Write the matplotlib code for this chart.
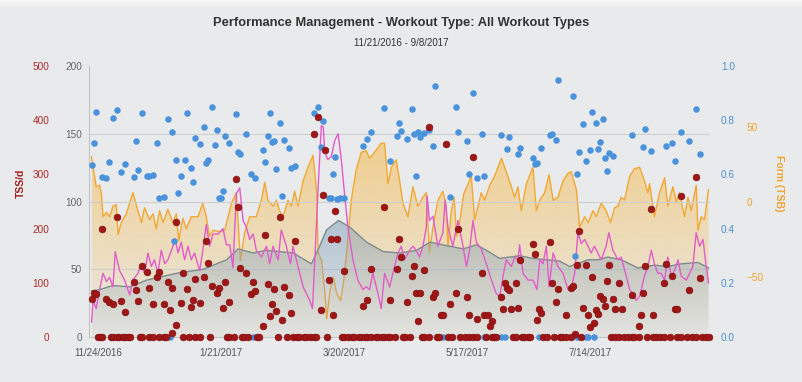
import matplotlib
matplotlib.use("Agg")
import matplotlib.pyplot as plt
import matplotlib.dates as mdates
from matplotlib.ticker import FixedLocator, FuncFormatter
from matplotlib.patches import PathPatch
from matplotlib.colors import to_rgb
import numpy as np

plt.rcParams['font.family'] = ['Liberation Sans', 'DejaVu Sans']

# ---- data (day offsets from 11/21/2016) ----
start = mdates.datestr2num('2016-11-21')

# Fitness (CTL), TSS/d, left axis 0-200
ctl_day = [0, 4, 10, 18, 26, 40, 52.7, 63.7, 69.1, 76.3, 82.5, 95.1, 103.7, 107.6, 110.8, 116.5,
           121.9, 129.7, 137.6, 145.5, 153.3, 159.6, 169, 175.2, 181.5, 186.2, 192.5, 201.9,
           208.2, 214.5, 220.8, 225.5, 228.7, 234.2, 238.8, 243.5, 249.8, 257.7, 265.5, 271.8,
           278.1, 286, 291]
ctl = [34, 35, 38, 37, 42, 47, 50, 57, 65, 62, 64, 62, 54, 67, 79, 86,
       81, 70, 63, 62, 64, 70, 67, 65, 68, 64, 58, 60,
       58, 57, 56, 52, 54, 57, 57, 59, 57, 51, 53, 52,
       54, 55, 51]

# Fatigue (ATL)
atl_day = [0, 0.7, 2.2, 3.8, 5.4, 7, 8.5, 10.1, 11.2, 13.2, 15.6, 18, 19.5, 21.9, 23.5, 25, 26.6,
           28.2, 29.7, 31.3, 32.9, 34.5, 36, 38.4, 39.5, 40.8, 42.3, 43.9, 45.5, 47, 48.6, 51,
           52.5, 54.1, 55.7, 57.3, 59.7, 62, 63.6, 65.2, 66.7, 68.3, 69.9, 71.5, 73, 74.6, 76.2,
           77.7, 80.1, 82.5, 84, 85.6, 88, 89.5, 91.9, 93.8, 95, 96.6, 99.8, 102.9, 104.2, 105.3,
           106.8, 108.4, 109.3, 110, 111.5, 113.1, 114.7, 116.3, 117.8, 119.3, 120.9, 123.3,
           125.6, 128, 129.6, 131.1, 132.7, 135.1, 136.6, 138.2, 140.6, 142.1, 144.5, 146.1,
           147.6, 150, 151.6, 153.1, 154.7, 156.3, 157.9, 158.3, 159.4, 161, 163.4, 165.7,
           166.8, 168.1, 170.4, 172.8, 175.2, 176.8, 178.3, 179.9, 181.5, 183.8, 186.2, 188.6,
           190.9, 192.5, 194.1, 195.6, 198, 199.6, 201.1, 201.9, 203.5, 205.9, 208.2, 210.1,
           211.4, 212.9, 214.5, 215.8, 217.7, 220, 222.4, 224.7, 226.3, 227.9, 229.4, 231,
           232.6, 234.2, 235.7, 237.2, 238.8, 240.4, 242.7, 244, 245.9, 248.3, 249.8, 252.2,
           253.8, 255.3, 256.9, 258.5, 260.8, 262.4, 264, 265.5, 267.1, 268.7, 270.3, 271.8,
           273.4, 275, 276.6, 278.1, 280.5, 282.1, 283.6, 285.2, 286.8, 288.4, 289.9, 291]
atl = [11, 27, 21, 35, 47, 41, 44, 37, 63, 49, 42, 31, 42, 47, 54, 47, 62,
       52, 57, 47, 64, 54, 57, 67, 72, 62, 70, 57, 67, 57, 62, 49,
       64, 83, 67, 76, 76, 80, 68, 68, 51, 106, 110, 86, 81, 72, 76,
       64, 59, 67, 54, 67, 57, 79, 67, 54, 67, 57, 37, 27, 21, 57,
       108, 156, 155, 136, 131, 133, 145, 150, 131, 106, 81, 57,
       42, 35, 37, 35, 47, 32, 21, 47, 37, 47, 62, 67,
       57, 64, 67, 64, 59, 67, 81, 104, 86, 89, 67, 77,
       101, 81, 67, 86, 67, 52, 64, 86, 70, 65, 54, 42,
       32, 30, 45, 57, 52, 59, 57, 68, 47, 42, 42, 35,
       57, 54, 67, 37, 62, 52, 47, 35, 37, 47, 77, 69,
       72, 67, 62, 67, 62, 57, 67, 77, 64, 57, 59, 45,
       35, 32, 27, 30, 45, 52, 64, 54, 47, 47, 42, 59,
       45, 49, 57, 45, 42, 47, 52, 77, 67, 72, 52, 40]

# Form (TSB), right axis
tsb_day = [0, 0.7, 2.2, 3.8, 4.6, 5.4, 7, 8.5, 10.1, 11.7, 12.5, 14, 16.4, 19.5, 21.9, 23.5, 25,
           27.4, 29, 30.5, 32.1, 33.7, 36, 38.4, 40, 41.1, 43.1, 44.7, 47, 50.2, 52.5, 54.1,
           55.7, 57.3, 60.4, 62.8, 64.4, 66, 68.3, 70.2, 72.2, 74.6, 77.7, 80.1, 81.7, 83.2,
           85.6, 87.2, 88.7, 90.3, 92.7, 94.2, 95.8, 97.4, 99.8, 102.1, 104.5, 106.2, 106.9,
           108.5, 110.1, 110.9, 112.5, 114, 115.6, 117.5, 119, 120.1, 122.5, 124.8, 127.2,
           129.6, 131.1, 133.5, 136.6, 138.2, 139.8, 141.4, 143.7, 145.3, 146.9, 149.2, 151.6,
           153.9, 156.3, 157.9, 159.4, 161, 163.4, 165.7, 167.3, 168.1, 169.7, 171, 172.2,
           173.8, 175.5, 177.6, 179.1, 180.7, 182.3, 183.8, 185.4, 187.8, 190.1, 193.3, 195.6,
           198, 199.6, 201.1, 202.7, 205.1, 208.2, 209.8, 211.4, 213.7, 215.8, 217.7, 220,
           222.4, 224.7, 226.3, 228.7, 230.2, 232.6, 234.2, 236.5, 238, 240.4, 242.7, 244.8,
           246.7, 248.3, 249.8, 251.4, 253.8, 256.1, 258.5, 260.8, 262.4, 263.2, 265.5, 267.9,
           270.3, 271.8, 274.2, 275.8, 277.3, 279.7, 281.3, 282.8, 285.2, 286, 287.6, 289.1, 291]
tsb = [30, 23, 10, 11, 6, -10, -7, -10, -3, -2, -22, -14, -8, 6, -6, -14, -4,
       -12, -8, -18, -6, -14, -5, -14, -8, -26, -11, -18, -10, -10, -1, -10,
       -23, -19, -20, -19, -10, -1, 6, -39, -21, -10, -10, 1, 13, 1,
       -3, 1, -6, -10, 1, -3, 7, -3, 14, 23, 31, 6, -34,
       -39, -61, -78, -59, -50, -61, -66, -52, -37, 1, 21, 33,
       34, 29, 33, 39, 39, 12, 23, 28, 14, -1, -10, 10,
       -3, 3, 6, -34, -17, 1, 7, -3, -30, -6, 3, -23,
       -12, 5, 12, 17, -12, -3, 6, 1, 11, 17, 29, 20,
       10, 3, 10, -6, 12, 23, -6, 1, 6, 18, 1, 3,
       14, 19, 20, 8, -17, -10, -14, -6, -10, -1, -6, -14,
       -4, -3, 3, 1, 17, 22, 23, 14, 6, 12, -10, 6,
       16, -3, 10, 0, 6, -10, 3, -6, 11, -19, -10, -12, 8]

# TSS per workout (TSS/d axis 0-500)
tss_day = [0, 1, 2, 5, 7, 8, 10, 12, 14, 16, 20, 21, 22, 24, 26, 27, 29, 31, 32, 34, 36, 37,
           38, 38, 40, 40, 42, 43, 45, 47, 48, 49, 51, 53, 54, 55, 57,
           59, 60, 62, 63, 65, 68, 69, 70, 73, 75, 76, 77, 81, 82, 83, 84, 85, 86, 87, 89,
           90, 91, 93, 94, 96, 105, 107, 108, 109, 110, 112, 113, 114, 115, 116,
           119, 128, 130, 132, 138, 141, 144, 145, 146, 149, 151, 152, 153, 154, 155, 157,
           159, 161, 162, 165, 166, 167, 169, 172, 173,
           177, 178, 180, 182, 184, 185, 187, 188, 189, 193, 194, 195, 196, 197, 198, 200,
           201, 202, 208, 209, 210, 211, 212, 216, 217, 219, 220, 224, 226, 227, 228, 229,
           230, 232, 233, 234,
           235, 236, 237, 238, 239, 240, 241, 242, 243, 244, 246, 247, 249, 250, 255, 258,
           259, 260, 261, 264, 265, 270, 271, 274, 275, 276, 278, 282, 285, 287]
tss = [70, 82, 79, 200, 71, 65, 61, 222, 67, 46, 101, 87, 67, 131, 120, 90, 60, 110, 120, 60, 102, 50,
       90, 7, 213, 23, 63, 119, 88, 56, 68, 107, 62, 110, 177, 136, 94,
       81, 91, 53, 102, 64, 291, 239, 128, 118, 79, 101, 85, 21, 189, 98, 38, 60, 89, 48, 222,
       31, 93, 78, 45, 178, 375, 405, 50, 262, 345, 105, 180, 40, 233, 180,
       121, 57, 68, 125, 240, 68, 125, 180, 148, 65, 112, 131, 81, 29, 81, 123,
       388, 73, 82, 41, 41, 357, 61, 81, 200,
       73, 41, 332, 33, 119, 41, 41, 20, 30, 73, 51, 100, 90, 87, 51, 100,
       53, 142, 171, 153, 31, 51, 45, 175, 100, 64, 88, 41, 90, 95, 6, 133,
       196, 53, 133, 41,
       19, 110, 25, 50, 42, 76, 70, 57, 103, 132, 70, 51, 100, 51, 77, 21,
       40, 82, 131, 236, 40, 100, 135, 113, 51, 51, 261, 87, 296, 109]

# days with a 0 TSS workout
zero_tss_day = [3, 4, 5, 9, 10, 12, 13, 15, 16, 17, 18, 23, 24, 27, 29, 32, 34, 35, 43, 46, 49,
                51, 56, 64, 65, 67, 71, 72, 74, 78, 79, 88, 92, 95, 97, 98, 100, 101, 103, 105,
                106, 111, 118, 119, 121, 123, 124, 126, 127, 129, 130, 132, 134, 135, 137, 138,
                140, 141, 143, 147, 148, 150, 156, 157, 159, 163, 164, 168, 170, 174, 176, 178,
                180, 182, 186, 189, 190, 191, 199, 200, 203, 204, 206, 207, 213, 215, 218, 221,
                222, 224, 226, 231, 245, 247, 249, 251, 253, 255, 256, 258, 262, 265, 266, 268,
                270, 273, 276, 278, 281, 283, 285, 288, 290, 291]

# Intensity Factor (0-1 axis)
if_day = [0, 1, 2, 5, 7, 8, 10, 12, 14, 16, 20, 21, 22, 24, 26, 27, 29, 31, 32, 34, 36, 38, 39,
          40, 41, 42, 44, 45, 47, 48, 49, 51, 53, 54, 55, 57,
          58, 59, 60, 61, 62, 63, 65, 68, 69, 70, 73, 75, 77, 81, 82, 83, 84, 85, 86, 87, 89,
          90, 91, 93, 94, 96, 105, 107, 108, 109, 112, 113, 114, 115, 116, 117, 119,
          128, 130, 132, 138, 141, 144, 145, 146, 149, 151, 152, 153, 154, 155, 157, 159, 161,
          162, 169, 172, 173,
          177, 178, 180, 182, 184, 185, 193, 196, 197, 201, 202, 208, 209, 210, 212, 216, 217,
          219, 220, 227, 228, 229, 230, 232, 233,
          235, 236, 238, 239, 240, 241, 242, 243, 244, 246, 255, 260, 261, 264, 271, 274, 275,
          278, 282, 285, 287]
intensity = [0.633, 0.716, 0.829, 0.589, 0.585, 0.646, 0.807, 0.838, 0.609, 0.64, 0.589, 0.723,
             0.616, 0.825, 0.593, 0.593, 0.599, 0.716, 0.514, 0.517, 0.803, 0.756, 0.353,
             0.652, 0.53, 0.594, 0.652, 0.828, 0.625, 0.572, 0.733, 0.712, 0.775, 0.643, 0.654, 0.847,
             0.708, 0.764, 0.514, 0.514, 0.539, 0.742, 0.717, 0.822, 0.684, 0.675, 0.749, 0.6,
             0.588, 0.69, 0.647, 0.743, 0.825, 0.72, 0.724, 0.62, 0.791,
             0.522, 0.727, 0.696, 0.624, 0.632, 0.825, 0.85, 0.702, 0.797, 0.514, 0.512, 0.601,
             0.663, 0.51, 0.512, 0.512,
             0.705, 0.732, 0.755, 0.844, 0.651, 0.74, 0.79, 0.761, 0.732, 0.84, 0.749, 0.595,
             0.758, 0.739, 0.754, 0.764, 0.705, 0.927, 0.517, 0.85, 0.758,
             0.723, 0.601, 0.902, 0.588, 0.75, 0.594, 0.745, 0.694, 0.737, 0.677, 0.696, 0.66,
             0.638, 0.641, 0.696, 0.744, 0.749, 0.727, 0.95, 0.888, 0.3, 0.601, 0.684, 0.786, 0.649,
             0.69, 0.829, 0.791, 0.692, 0.718, 0.806, 0.659, 0.611, 0.679, 0.668, 0.747, 0.701,
             0.766, 0.686, 0.704, 0.716, 0.648, 0.756, 0.722, 0.843, 0.674]
zero_if_day = [37, 76, 166, 185, 193, 195, 211, 229, 233, 234, 237]

tick_dates = ['2016-11-24', '2017-01-21', '2017-03-20', '2017-05-17', '2017-07-14']

# ---- colours ----
bg = '#e9eaeb'
red = '#a01616'
blue = '#4a92dc'
orange = '#f2a833'
pink = '#e25cc9'
grey_line = '#7f8c8c'


def X(days):
    return start + np.asarray(days, dtype=float)


def gradient_area(a, x, y, base, color, a_top, a_bot, z):
    # area from base up to the line, faded towards the base
    poly = a.fill_between(x, y, base, facecolor='none', edgecolor='none', lw=0)
    clip = PathPatch(poly.get_paths()[0], transform=a.transData, facecolor='none',
                     edgecolor='none')
    a.add_patch(clip)
    img = np.zeros((256, 1, 4))
    img[..., :3] = to_rgb(color)
    img[..., 3] = np.linspace(a_bot, a_top, 256)[:, None]
    im = a.imshow(img, aspect='auto', origin='lower', interpolation='bilinear',
                  extent=[x[0], x[-1], base, max(y)], zorder=z)
    im.set_clip_path(clip)


fig = plt.figure(figsize=(8.03, 3.82), dpi=100)
fig.patch.set_facecolor(bg)

# light band at the very top of the page
band = fig.add_axes([0, 1 - 9 / 382, 1, 9 / 382])
band.imshow(np.linspace(0.975, 0.915, 20)[:, None], cmap='gray', vmin=0, vmax=1,
            aspect='auto', extent=[0, 1, 0, 1])
band.axis('off')

ax = fig.add_axes([89 / 803, 45 / 382, 621 / 803, 271 / 382])
ax_tsb = ax.twinx()
ax_if = ax.twinx()
ax_tss = ax.twinx()

# TSB axis sits at the bottom of the stack
ax_tsb.set_zorder(0)
ax.set_zorder(1)
ax_if.set_zorder(2)
ax_tss.set_zorder(3)
ax_tsb.set_facecolor(bg)
for a in (ax, ax_if, ax_tss):
    a.patch.set_visible(False)

xlim = (X(-1.2), X(291.7))

# TSB area + line
gradient_area(ax_tsb, X(tsb_day), tsb, -90.2, '#f7b843', 0.55, 0.04, 1)
ax_tsb.plot(X(tsb_day), tsb, color=orange, lw=1.0, zorder=2)

# CTL area + line, ATL line
for yv in (50, 100, 150):
    ax.axhline(yv, color='#cfcfcf', lw=0.8, zorder=0)
gradient_area(ax, X(ctl_day), ctl, 0, '#84a1ba', 0.55, 0.06, 1)
ax.plot(X(ctl_day), ctl, color=grey_line, lw=1.0, zorder=2)
ax.plot(X(atl_day), atl, color=pink, lw=1.0, zorder=3)

# IF dots
ax_if.scatter(X(if_day), intensity, s=22, color=blue, lw=0, clip_on=False)
ax_if.scatter(X(zero_if_day), np.zeros(len(zero_if_day)), s=22, color=blue, lw=0, clip_on=False)

# TSS dots
ax_tss.scatter(X(tss_day), tss, s=24, color=red, edgecolor='#7a0e0e', lw=0.4, clip_on=False)
ax_tss.scatter(X(zero_tss_day), np.zeros(len(zero_tss_day)), s=24, color=red,
               edgecolor='#7a0e0e', lw=0.4, clip_on=False)

ax.set_ylim(0, 200)
ax_tsb.set_ylim(-90.2, 90.5)
ax_if.set_ylim(0, 1)
ax_tss.set_ylim(0, 500)

for a in (ax, ax_tsb, ax_if, ax_tss):
    a.set_xlim(*xlim)
    for s in a.spines.values():
        s.set_visible(False)

ax.spines['left'].set_visible(True)
ax.spines['left'].set_color('#c4c4c4')
ax.spines['bottom'].set_visible(True)
ax.spines['bottom'].set_color('#c4c4c4')

# x axis
ax.xaxis.set_major_locator(FixedLocator([mdates.datestr2num(d) for d in tick_dates]))
ax.xaxis.set_major_formatter(FuncFormatter(
    lambda v, p: f"{mdates.num2date(v).month}/{mdates.num2date(v).day}/{mdates.num2date(v).year}"))
ax.tick_params(axis='x', length=0, pad=8, labelsize=7, labelcolor='#555555')

# left grey axis
ax.set_yticks([0, 50, 100, 150, 200])
ax.tick_params(axis='y', length=0, pad=5, labelsize=7.2, labelcolor='#666666')

# TSS axis (far left, red)
ax_tss.yaxis.tick_left()
ax_tss.set_yticks([0, 100, 200, 300, 400, 500])
ax_tss.tick_params(axis='y', length=0, pad=28.5, labelsize=7.2, labelcolor='#b02a2a')
for a in (ax_tss, ax_if, ax_tsb):
    a.tick_params(axis='x', bottom=False, labelbottom=False, top=False, labeltop=False)

# IF axis (right, blue)
ax_if.set_yticks([0, 0.2, 0.4, 0.6, 0.8, 1.0])
ax_if.yaxis.set_major_formatter(FuncFormatter(lambda v, p: f"{v:.1f}"))
ax_if.tick_params(axis='y', length=0, pad=8, labelsize=7.2, labelcolor='#4a8fd6')

# TSB axis (right, orange)
ax_tsb.set_yticks([-50, 0, 50])
ax_tsb.tick_params(axis='y', length=0, pad=26.5, labelsize=7.2, labelcolor='#f0a42c')

fig.text(21 / 803, 1 - 183 / 382, 'TSS/d', rotation=90, ha='center', va='center',
         fontsize=7.5, fontweight='bold', color='#a51d1d')
fig.text(779 / 803, 1 - 183 / 382, 'Form (TSB)', rotation=270, ha='center', va='center',
         fontsize=7.5, fontweight='bold', color='#f0a42c')

fig.text(0.5, 1 - 23 / 382, 'Performance Management - Workout Type: All Workout Types',
         ha='center', va='center', fontsize=9.3, fontweight='bold', color='#333333')
fig.text(0.5, 1 - 43 / 382, '11/21/2016 - 9/8/2017', ha='center', va='center',
         fontsize=7, color='#333333')

fig.savefig('out.png', dpi=100, facecolor=bg)
